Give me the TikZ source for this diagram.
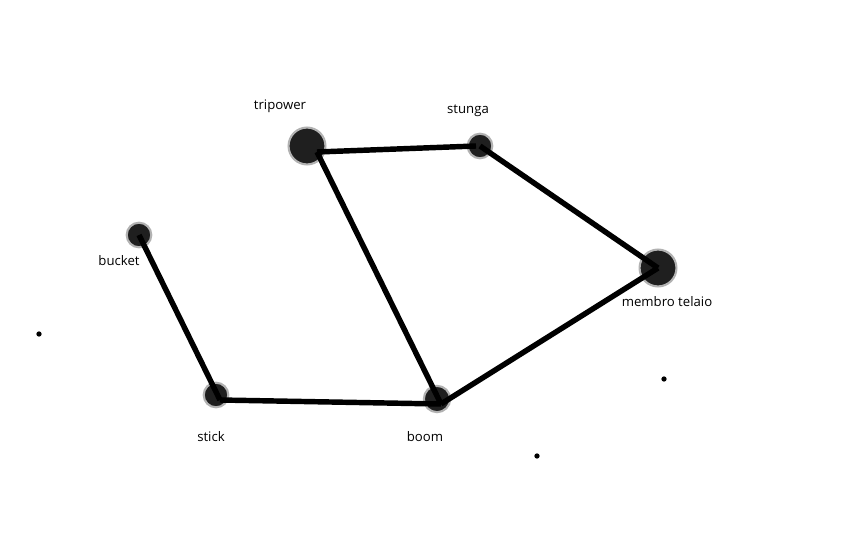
\documentclass[tikz,border=0pt]{standalone}
\usepackage{fontspec}
\setmainfont{Open Sans}
\begin{document}
\begin{tikzpicture}[x=0.02cm,y=-0.02cm,line width=3.1pt,joint/.style={circle,fill=black!88,draw=black!30,line width=1.2pt,inner sep=0pt,minimum size=21pt},small joint/.style={joint,minimum size=14pt},dot/.style={circle,fill=black,inner sep=0pt,minimum size=3pt},label text/.style={font=\fontsize{7.5}{9}\selectfont}]
                    \useasboundingbox (0,0) rectangle (864,540);
                    \node[joint] at (307,146) (tripower) {};
                    \node[small joint] at (480,146) (stunga) {};
                    \node[small joint] at (139,235) (bucket) {};
                    \node[joint] at (658,268) (telaio) {};
                    \node[small joint] at (216,395) (stick) {};
                    \node[small joint,minimum size=15pt] at (437,399) (boom) {};

                    \node[label text] at (280,106) {tripower};
                    \node[label text] at (468,111) {stunga};
                    \node[label text] at (119,261) {bucket};
                    \node[label text] at (667,302) {membro telaio};
                    \node[label text] at (211,437) {stick};
                    \node[label text] at (425,437) {boom};

                    \node[dot] at (39,334) (p1) {};
                    \node[dot] at (664,379) (p2) {};
                    \node[dot] at (537,456) (p3) {};

                    \path ([shift={(10,6)}]tripower.center) edge ([shift={(-4,0)}]stunga.center);
                    \path (stunga.center) edge (telaio.center);
                    \path (telaio.center) edge ([shift={(4,5)}]boom.center);
                    \path ([shift={(4,5)}]boom.center) edge ([shift={(10,6)}]tripower.center);
                    \path ([shift={(4,5)}]boom.center) edge ([shift={(4,5)}]stick.center);
                    \path ([shift={(4,5)}]stick.center) edge (bucket.center);
                \end{tikzpicture}
\end{document}
